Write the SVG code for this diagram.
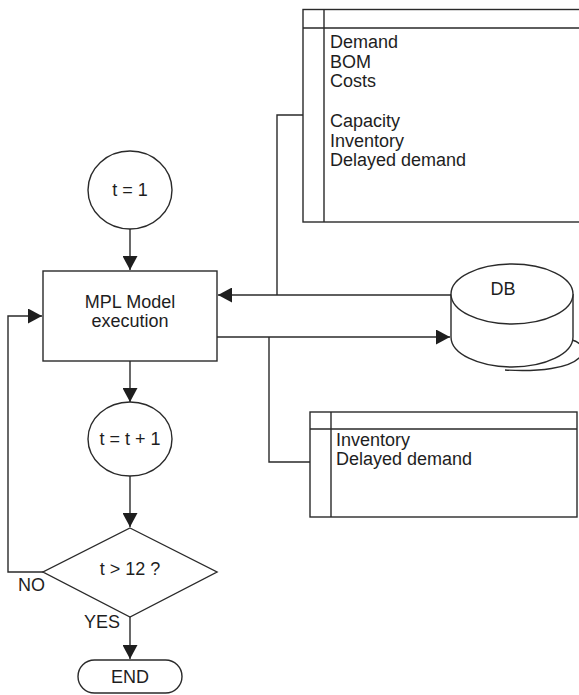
<svg xmlns="http://www.w3.org/2000/svg" width="579" height="695" viewBox="0 0 579 695">
<style>
.s{fill:#fff;stroke:#2a2a2a;stroke-width:1.4}
.l{fill:none;stroke:#2a2a2a;stroke-width:1.4}
.t{font-family:"Liberation Sans",Arial,sans-serif;font-size:18px;fill:#1e1e1e}
.c{text-anchor:middle}
</style>
<defs>
<marker id="ah" markerUnits="userSpaceOnUse" markerWidth="15" markerHeight="15" refX="14" refY="7.5" orient="auto">
<path d="M0,0 L14,7.5 L0,15 z" fill="#1e1e1e"/>
</marker>
</defs>
<g id="connectors">
<path class="l" d="M130,229 V270" marker-end="url(#ah)"/>
<path class="l" d="M451,295 H218" marker-end="url(#ah)"/>
<path class="l" d="M303,115 H277 V295"/>
<path class="l" d="M217,337 H450" marker-end="url(#ah)"/>
<path class="l" d="M269,337 V462 H310"/>
<path class="l" d="M130,361 V402" marker-end="url(#ah)"/>
<path class="l" d="M130,476 V527" marker-end="url(#ah)"/>
<path class="l" d="M43,572 H8 V316 H42" marker-end="url(#ah)"/>
<path class="l" d="M130,617 V659" marker-end="url(#ah)"/>
</g>
<g id="store-top">
<rect class="s" x="303" y="9.5" width="290" height="212.5"/>
<path class="l" d="M303,28 H593 M324,9.5 V222"/>
<text class="t" x="330" y="48">Demand</text>
<text class="t" x="330" y="67.7">BOM</text>
<text class="t" x="330" y="87.4">Costs</text>
<text class="t" x="330" y="126.8">Capacity</text>
<text class="t" x="330" y="146.5">Inventory</text>
<text class="t" x="330" y="166.2">Delayed demand</text>
</g>
<g id="start">
<ellipse class="s" cx="130" cy="190" rx="42" ry="39"/>
<text class="t c" x="130" y="196">t = 1</text>
</g>
<g id="model">
<rect class="s" x="43" y="271" width="174" height="90"/>
<text class="t c" x="130" y="308">MPL Model</text>
<text class="t c" x="130" y="327">execution</text>
</g>
<g id="db">
<path class="l" d="M572,340 C581,342 586,350 579,358 C569,368 540,372 505,370"/>
<path class="s" d="M451,294 V337 A61 30 0 0 0 573 337 V294"/>
<ellipse class="s" cx="512" cy="294" rx="61" ry="30"/>
<text class="t c" x="503" y="295">DB</text>
</g>
<g id="store-bottom">
<rect class="s" x="310" y="412" width="267" height="105"/>
<path class="l" d="M310,429 H577 M331,412 V517"/>
<text class="t" x="336" y="446">Inventory</text>
<text class="t" x="336" y="465">Delayed demand</text>
</g>
<g id="increment">
<ellipse class="s" cx="130" cy="439" rx="42" ry="37"/>
<text class="t c" x="130" y="445">t = t + 1</text>
</g>
<g id="decision">
<path class="s" d="M130,528 L217,572 L130,617 L43,572 z"/>
<text class="t c" x="130" y="575">t &gt; 12 ?</text>
<text class="t" x="18" y="591">NO</text>
<text class="t" x="84" y="628">YES</text>
</g>
<g id="end">
<rect class="s" x="78" y="660" width="104" height="33" rx="16.5"/>
<text class="t c" x="130" y="683">END</text>
</g>
</svg>
